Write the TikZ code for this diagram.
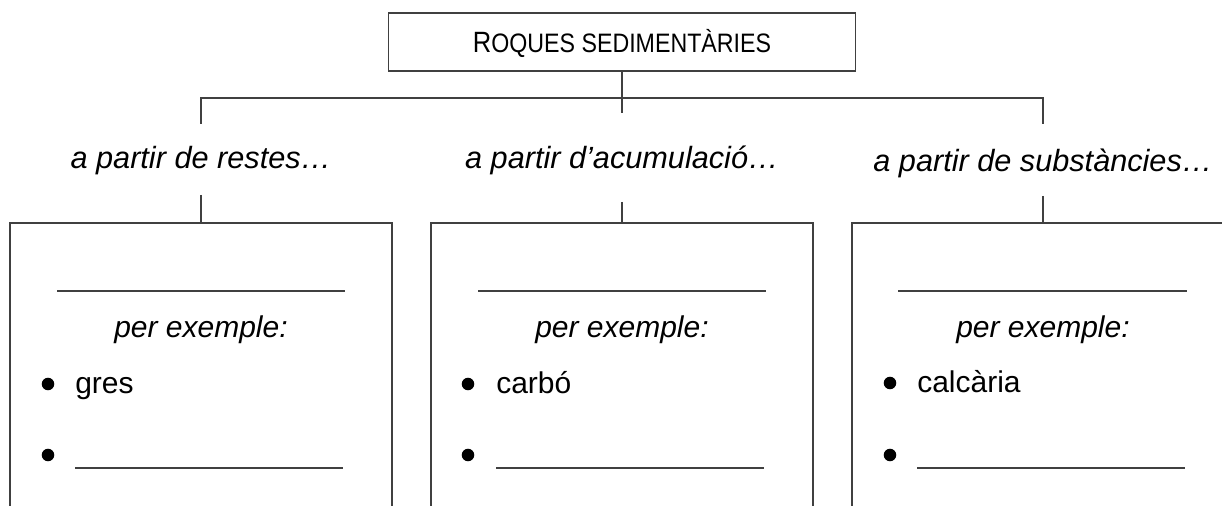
\documentclass[tikz,border=0pt]{standalone}
\usepackage{fontspec}
\setmainfont{Liberation Sans}
\newfontfamily\titlefont[FakeStretch=0.87]{Liberation Sans}
\usepackage{tikz}

\begin{document}
\begin{tikzpicture}
			[x=0.75pt,y=-0.75pt,line cap=butt,
			%Styles
			frame line/.style={draw=black!75,line width=1pt},
			title node/.style={frame line,minimum width=350.25pt,minimum height=43.5pt,inner sep=0pt,text height=15.75pt,text depth=0pt},
			branch text/.style={anchor=base,font=\fontsize{23}{27}\selectfont\itshape},
			example text/.style={anchor=base,font=\fontsize{22.5}{27}\selectfont\itshape},
			item text/.style={anchor=base west,inner sep=0pt,font=\fontsize{22.5}{27}\selectfont},
			dot/.style={circle,fill=black,inner sep=0pt,minimum size=9.4pt}
			]
			
			%Frame of the page
			\clip (0,0) rectangle (1222,506);
			\useasboundingbox (0,0) rectangle (1222,506);
			
			%The title and the branches
			\node[title node] (title) at (622,42) {\titlefont\fontsize{22}{26}\selectfont R\fontsize{20}{24}\selectfont OQUES SEDIMENTÀRIES};
			\coordinate (barA) at (201,98);
			\coordinate (barC) at (1043,98);
			\coordinate (stemA) at (201,124);
			\coordinate (stemB) at (622,113);
			\coordinate (stemC) at (1043,124);
			\draw[frame line] (title.south) -- (stemB);
			\draw[frame line] (stemA) -- (barA) -- (barC) -- (stemC);
			
			\node[branch text] (restes) at (201,169) {a partir de restes…};
			\node[branch text] (acumulacio) at (622,169) {a partir d’acumulació…};
			\node[branch text] (substancies) at (1043,172) {a partir de substàncies…};
			
			%The three boxes
			\coordinate (topA) at (201,195);
			\coordinate (topB) at (622,202);
			\coordinate (topC) at (1043,196);
			\coordinate (boxA) at (201,223);
			\coordinate (boxB) at (622,223);
			\coordinate (boxC) at (1043,223);
			\draw[frame line] (topA) -- (boxA);
			\draw[frame line] (topB) -- (boxB);
			\draw[frame line] (topC) -- (boxC);
			\draw[frame line] (10,512) |- (boxA) -| (392,512);
			\draw[frame line] (431,512) |- (boxB) -| (813,512);
			\draw[frame line] (852,512) |- (boxC) -| (1234,512);
			
			%Box A
			\draw[frame line] (57,291) -- (345,291);
			\node[example text] (exA) at (201,338) {per exemple:};
			\node[dot] (dotA1) at (48,384) {};
			\node[item text] (gres) at (75,393) {gres};
			\node[dot] (dotA2) at (48,455) {};
			\draw[frame line] (75,468) -- (343,468);
			
			%Box B
			\draw[frame line] (478,291) -- (766,291);
			\node[example text] (exB) at (622,338) {per exemple:};
			\node[dot] (dotB1) at (468,384) {};
			\node[item text] (carbo) at (496,393) {carbó};
			\node[dot] (dotB2) at (468,455) {};
			\draw[frame line] (496,468) -- (764,468);
			
			%Box C
			\draw[frame line] (898,291) -- (1187,291);
			\node[example text] (exC) at (1043,338) {per exemple:};
			\node[dot] (dotC1) at (890,383) {};
			\node[item text] (calcaria) at (917,392) {calcària};
			\node[dot] (dotC2) at (890,455) {};
			\draw[frame line] (917,468) -- (1185,468);
		\end{tikzpicture}
\end{document}
